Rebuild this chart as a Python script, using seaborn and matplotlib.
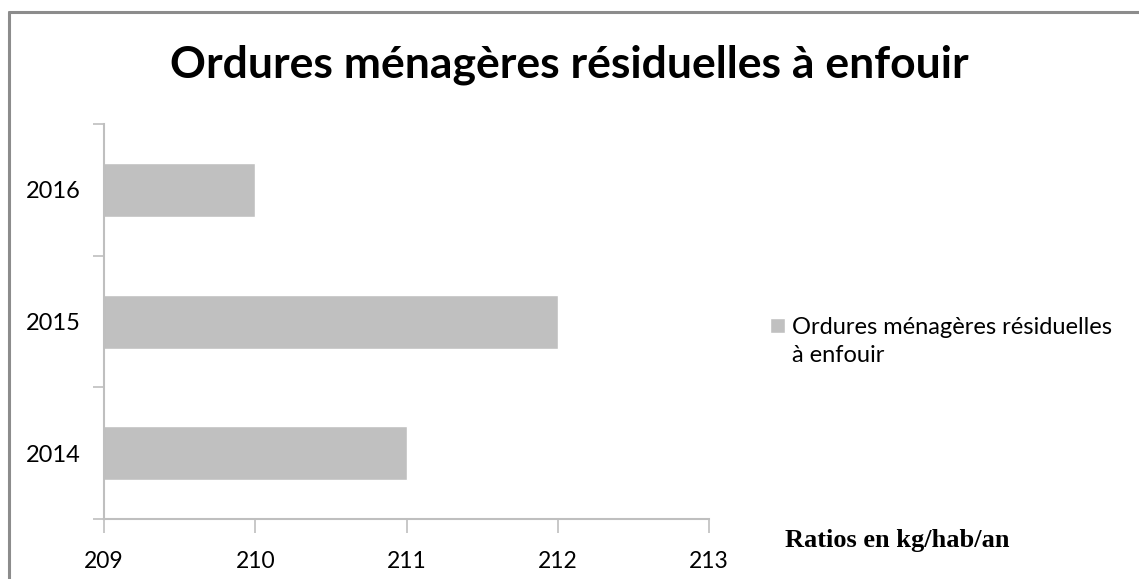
import pandas as pd
import matplotlib.pyplot as plt
import seaborn as sns
from matplotlib.lines import Line2D

# data
years = ['2016', '2015', '2014']
ratios = [210, 212, 211]
series_name = 'Ordures ménagères résiduelles à enfouir'
x_ticks = [209, 210, 211, 212, 213]

df = pd.DataFrame({'year': years, 'ratio': ratios})

sns.set_style('white')
plt.rcParams['font.family'] = ['Lato', 'DejaVu Sans']
plt.rcParams['text.color'] = 'black'
plt.rcParams['xtick.color'] = 'black'
plt.rcParams['ytick.color'] = 'black'

fig = plt.figure(figsize=(11.39, 5.79), dpi=100)
ax = fig.add_axes([0.0913, 0.1036, 0.5312, 0.6822])

sns.barplot(data=df, x='ratio', y='year', order=years, orient='h',
            color='#c0c0c0', saturation=1, width=0.41, ax=ax,
            label='Ordures ménagères résiduelles', legend=False)
if ax.get_legend() is not None:
    ax.get_legend().remove()

ax.set_xlim(x_ticks[0], x_ticks[-1])
ax.set_ylim(2.5, -0.5)
ax.set_xticks(x_ticks)
ax.set_xticklabels([str(t) for t in x_ticks], fontsize=16.5)
ax.set_yticks([-0.5, 0.5, 1.5, 2.5])
ax.set_yticklabels([])
ax.set_yticks(range(len(years)), labels=years, minor=True)
ax.tick_params(axis='y', which='minor', length=0, labelsize=17, pad=17)
ax.tick_params(axis='y', which='major', length=8, width=1.2, color='#bfbfbf', left=True)
ax.tick_params(axis='x', length=10, width=1.2, color='#bfbfbf', bottom=True, pad=13)
ax.set_xlabel('')
ax.set_ylabel('')
for s in ['top', 'right']:
    ax.spines[s].set_visible(False)
for s in ['left', 'bottom']:
    ax.spines[s].set_color('#bfbfbf')
    ax.spines[s].set_linewidth(1.5)

handles, labels = ax.get_legend_handles_labels()
fig.legend(handles, labels, loc='center left', bbox_to_anchor=(0.666, 1 - 327 / 579),
           frameon=False, fontsize=17, handlelength=0.6, handleheight=0.6,
           handletextpad=0.3, borderpad=0)
fig.text(792 / 1139, 1 - 355 / 579, 'à enfouir', fontsize=17, ha='left', va='center')

fig.suptitle(series_name, x=0.5, y=1 - 65 / 579, va='center', fontsize=32, fontweight='bold')
fig.text(785 / 1139, 1 - 541 / 579, 'Ratios en kg/hab/an', family='Liberation Serif',
         fontsize=19, fontweight='bold', ha='left', va='center')

# frame lines at top and left
fig.add_artist(Line2D([9 / 1139, 1], [1 - 12 / 579] * 2, color='#8c8c8c', lw=2.2))
fig.add_artist(Line2D([9 / 1139] * 2, [0, 1 - 12 / 579], color='#8c8c8c', lw=2.2))

plt.savefig('out.png', dpi=100)
plt.close()
